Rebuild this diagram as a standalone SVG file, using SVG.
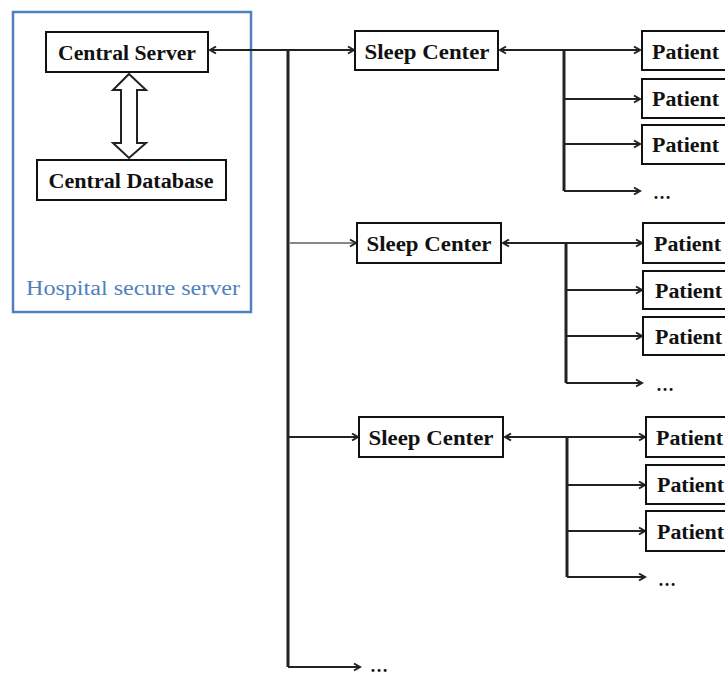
<svg xmlns="http://www.w3.org/2000/svg" width="725" height="675" viewBox="0 0 725 675">
<style>
.box{fill:#fff;stroke:#111;stroke-width:2}
.t{font-family:"Liberation Serif","Times New Roman",serif;font-weight:bold;font-size:20px;fill:#111}
.ln{fill:none;stroke:#222;stroke-width:2}
.trunk{fill:none;stroke:#222;stroke-width:3}
.gray{stroke:#888}
.dots{font-family:"Liberation Serif",serif;font-size:18px;fill:#111;font-weight:bold}
</style>
<defs>
<marker id="ah" markerWidth="10" markerHeight="10" refX="8" refY="5" orient="auto-start-reverse" markerUnits="userSpaceOnUse">
<path d="M2,1.5 L8,5 L2,8.5" fill="none" stroke="#222" stroke-width="2"/>
</marker>
</defs>
<g id="hospital">
<rect x="13" y="12" width="238" height="300" fill="none" stroke="#4f81bd" stroke-width="2.5"/>
<text x="133" y="295" text-anchor="middle" font-family="'Liberation Serif',serif" font-size="20" fill="#4f81bd" textLength="214" lengthAdjust="spacingAndGlyphs">Hospital secure server</text>
</g>
<g id="central-server">
<rect class="box" x="46" y="32" width="162" height="40"/>
<text class="t" x="127" y="60" text-anchor="middle" textLength="138" lengthAdjust="spacingAndGlyphs">Central Server</text>
</g>
<g id="central-database">
<rect class="box" x="37" y="160" width="189" height="40"/>
<text class="t" x="131" y="188" text-anchor="middle" textLength="165" lengthAdjust="spacingAndGlyphs">Central Database</text>
</g>
<g id="db-arrow">
<path d="M129,74 L146,90 L137,90 L137,143 L146,143 L129,158 L113,143 L121,143 L121,90 L113,90 Z" fill="#fff" stroke="#222" stroke-width="2"/>
</g>
<g id="connectors">
<line class="ln" x1="210" y1="50" x2="354" y2="50" marker-start="url(#ah)" marker-end="url(#ah)"/>
<line class="trunk" x1="288" y1="50" x2="288" y2="667"/>
<line class="ln" x1="288" y1="667" x2="360" y2="667" marker-end="url(#ah)"/>
<line class="ln gray" x1="289" y1="243" x2="356" y2="243" marker-end="url(#ah)"/>
<line class="ln" x1="288" y1="437" x2="358" y2="437" marker-end="url(#ah)"/>
<!-- group 1 -->
<line class="ln" x1="500" y1="50" x2="640" y2="50" marker-start="url(#ah)" marker-end="url(#ah)"/>
<line class="trunk" x1="564" y1="50" x2="564" y2="191"/>
<line class="ln" x1="564" y1="191" x2="640" y2="191" marker-end="url(#ah)"/>
<line class="ln" x1="564" y1="99" x2="640" y2="99" marker-end="url(#ah)"/>
<line class="ln" x1="564" y1="144" x2="640" y2="144" marker-end="url(#ah)"/>
<!-- group 2 -->
<line class="ln" x1="503" y1="243" x2="642" y2="243" marker-start="url(#ah)" marker-end="url(#ah)"/>
<line class="trunk" x1="566" y1="243" x2="566" y2="383"/>
<line class="ln" x1="566" y1="383" x2="642" y2="383" marker-end="url(#ah)"/>
<line class="ln" x1="566" y1="290" x2="642" y2="290" marker-end="url(#ah)"/>
<line class="ln" x1="566" y1="336" x2="642" y2="336" marker-end="url(#ah)"/>
<!-- group 3 -->
<line class="ln" x1="505" y1="437" x2="645" y2="437" marker-start="url(#ah)" marker-end="url(#ah)"/>
<line class="trunk" x1="567" y1="437" x2="567" y2="577"/>
<line class="ln" x1="567" y1="577" x2="645" y2="577" marker-end="url(#ah)"/>
<line class="ln" x1="567" y1="485" x2="645" y2="485" marker-end="url(#ah)"/>
<line class="ln" x1="567" y1="531" x2="645" y2="531" marker-end="url(#ah)"/>
</g>
<g id="sleep-center-1">
<rect class="box" x="355" y="31" width="143" height="39"/>
<text class="t" x="427" y="59" text-anchor="middle" textLength="125" lengthAdjust="spacingAndGlyphs">Sleep Center</text>
</g>
<g id="sleep-center-2">
<rect class="box" x="357" y="223" width="144" height="40"/>
<text class="t" x="429" y="251" text-anchor="middle" textLength="125" lengthAdjust="spacingAndGlyphs">Sleep Center</text>
</g>
<g id="sleep-center-3">
<rect class="box" x="359" y="417" width="144" height="40"/>
<text class="t" x="431" y="445" text-anchor="middle" textLength="125" lengthAdjust="spacingAndGlyphs">Sleep Center</text>
</g>
<g id="patients-1">
<rect class="box" x="642" y="31" width="90" height="39"/>
<text class="t" x="652" y="59" textLength="67" lengthAdjust="spacingAndGlyphs">Patient</text>
<rect class="box" x="642" y="79" width="90" height="39"/>
<text class="t" x="652" y="106" textLength="67" lengthAdjust="spacingAndGlyphs">Patient</text>
<rect class="box" x="642" y="125" width="90" height="39"/>
<text class="t" x="652" y="152" textLength="67" lengthAdjust="spacingAndGlyphs">Patient</text>
<text class="dots" x="653" y="199">…</text>
</g>
<g id="patients-2">
<rect class="box" x="643" y="223" width="90" height="40"/>
<text class="t" x="654" y="251" textLength="67" lengthAdjust="spacingAndGlyphs">Patient</text>
<rect class="box" x="643" y="271" width="90" height="38"/>
<text class="t" x="655" y="298" textLength="67" lengthAdjust="spacingAndGlyphs">Patient</text>
<rect class="box" x="643" y="317" width="90" height="38"/>
<text class="t" x="655" y="344" textLength="67" lengthAdjust="spacingAndGlyphs">Patient</text>
<text class="dots" x="656" y="391">…</text>
</g>
<g id="patients-3">
<rect class="box" x="646" y="417" width="90" height="40"/>
<text class="t" x="656" y="445" textLength="67" lengthAdjust="spacingAndGlyphs">Patient</text>
<rect class="box" x="646" y="465" width="90" height="39"/>
<text class="t" x="657" y="492" textLength="67" lengthAdjust="spacingAndGlyphs">Patient</text>
<rect class="box" x="646" y="511" width="90" height="40"/>
<text class="t" x="657" y="539" textLength="67" lengthAdjust="spacingAndGlyphs">Patient</text>
<text class="dots" x="658" y="586">…</text>
</g>
<g id="more">
<text class="dots" x="370" y="672">…</text>
</g>
</svg>
